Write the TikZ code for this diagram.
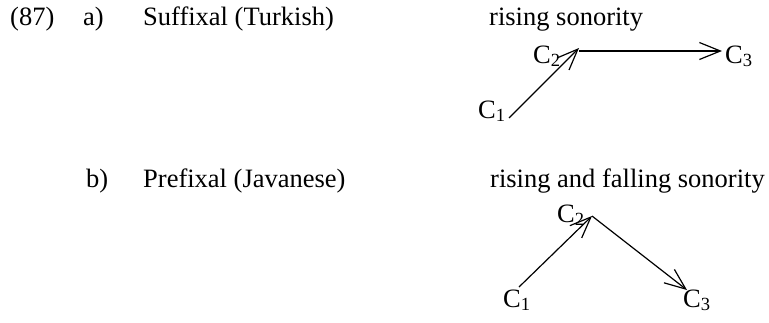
\documentclass[tikz,border=0pt]{standalone}
\usepackage{fontspec}
\setmainfont{Liberation Serif}
\usetikzlibrary{arrows.meta}
\begin{document}
\begin{tikzpicture}[x=1pt,y=-1pt,
  txt/.style={anchor=base west,inner sep=0pt,font=\fontsize{26.5}{30}\selectfont},
  arr/.style={line width=1.2pt,-{Straight Barb[length=21pt,width=17pt,line width=1.2pt]}}]
\useasboundingbox (0,0) rectangle (769,322);
% line a
\node[txt] (num) at (10,25) {(87)};
\node[txt] (la) at (83,25) {a)};
\node[txt] (ta) at (143,25) {Suffixal (Turkish)};
\node[txt] (sa) at (489,25) {rising sonority};
\node[txt] (a1) at (478,118) {C\textsubscript{1}};
\node[txt] (a2) at (533,63) {C\textsubscript{2}};
\node[txt] (a3) at (725,63) {C\textsubscript{3}};
\coordinate (a1e) at (509,118);
\coordinate (a2e) at (579,48);
\coordinate (a2s) at (579,51);
\coordinate (a3e) at (722,51);
\draw[arr] (a1e) -- (a2e);
\draw[arr] (a2s) -- (a3e);
% line b
\node[txt] (lb) at (86,187) {b)};
\node[txt] (tb) at (143,187) {Prefixal (Javanese)};
\node[txt] (sb) at (490,187) {rising and falling sonority};
\node[txt] (b1) at (503,307) {C\textsubscript{1}};
\node[txt] (b2) at (557,222) {C\textsubscript{2}};
\node[txt] (b3) at (683,307) {C\textsubscript{3}};
\coordinate (b1e) at (519,287);
\coordinate (b2e) at (592,216);
\coordinate (b3e) at (687,290);
\draw[arr] (b1e) -- (b2e);
\draw[arr] (b2e) -- (b3e);
\end{tikzpicture}
\end{document}
